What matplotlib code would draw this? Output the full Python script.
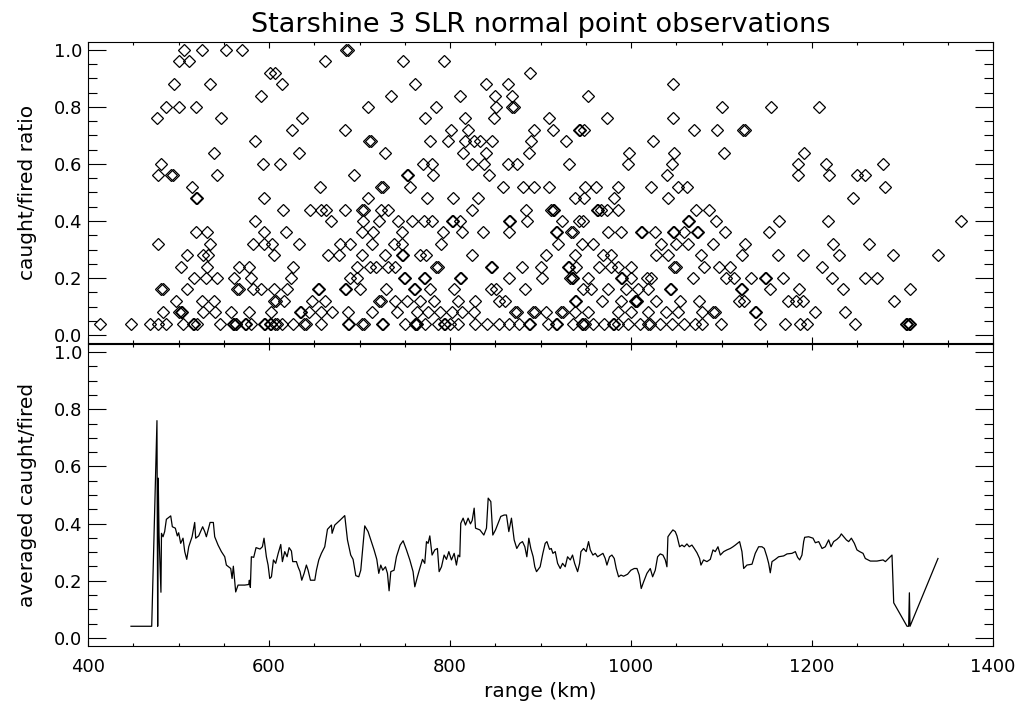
####################
# Starshine 3 SLR normal point observations
# top    : caught/fired ratio of every normal point vs range
# bottom : running average of the caught/fired ratio vs range
####################
import numpy as np
import matplotlib
matplotlib.use('Agg')
import matplotlib.pyplot as plt
from matplotlib.ticker import MultipleLocator

##
# Normal points : range (km) of the points found at each caught/fired level
# (a second value 1-2 km away where the diamond looks thicker = stacked points)
r_100 = [506, 526, 552, 570, 685, 687]
r_096 = [500, 512, 662, 748, 793]
r_092 = [601, 607, 888]
r_088 = [495, 535, 614, 761, 840, 864, 1046]
r_084 = [591, 735, 811, 850, 869, 952]
r_080 = [486, 500, 519, 709, 784, 851, 869, 870.5, 1100, 1155, 1208]
r_076 = [476, 547, 637, 772, 817, 849, 909, 973, 1046]
r_072 = [625, 684, 801, 820, 893, 914, 942, 943.5, 948, 1070, 1095, 1124, 1125.5]
r_068 = [585, 711, 712.5, 778, 798, 817, 826, 833, 846, 889, 928, 1024]
r_064 = [539, 633, 728, 814, 840, 887, 998, 1048, 1103, 1191]
r_060 = [481, 593, 612, 770, 780, 824, 838, 864, 874, 931, 997, 1045, 1184, 1216, 1279]
r_056 = [477, 492, 493.5, 542, 694, 752, 753.5, 781, 843, 1040, 1185, 1219, 1250, 1259]
r_052 = [515, 656, 724, 725.5, 756, 859, 881, 893, 909, 949, 961, 986, 1022, 1052,
         1062, 1281]
r_048 = [519, 520.5, 595, 709, 775, 803, 831, 938, 948, 981, 1041, 1245]
r_044 = [616, 645, 657, 663, 684, 703, 704.5, 724, 732, 824, 884, 912, 913.5, 915,
         962, 963.5, 967, 974, 986, 1072, 1086]
r_040 = [584, 668, 704, 721, 743, 758, 771, 780, 802, 803.5, 811, 865, 866.5, 885,
         924, 942, 947, 1063, 1064.5, 1094, 1163, 1218, 1365]
r_036 = [519, 532, 595, 619, 703, 715, 747, 792, 813, 836, 865, 917, 918.5, 934,
         935.5, 975, 989, 1011, 1012.5, 1026, 1046, 1047.5, 1059, 1073, 1074.5,
         1104, 1152]
r_032 = [477, 535, 582, 595, 603, 633, 679, 689, 714, 738, 747, 790, 919, 946, 958,
         1033, 1050, 1063, 1091, 1126, 1223, 1263]
r_028 = [509, 527, 533, 605, 665, 677, 703, 728, 747, 748.5, 767, 773, 824, 906,
         938, 969, 978, 1028, 1041, 1077, 1123, 1162, 1190, 1230, 1289, 1339]
r_024 = [503, 532, 567, 578, 626, 697, 712, 718, 731, 739, 785, 786.5, 845, 846.5,
         880, 901, 930, 931.5, 939, 965, 978, 986, 1000, 1048, 1049.5, 1081, 1097,
         1109, 1211]
r_020 = [517, 530, 542, 561, 580, 624, 690, 697, 749, 750.5, 771, 772.5, 811, 812.5,
         865, 902, 933, 934.5, 936, 952, 989, 990.5, 1000, 1018, 1022, 1069, 1105,
         1114, 1133, 1148, 1149.5, 1168, 1222, 1259, 1272]
r_016 = [481, 482.5, 509, 565, 566.5, 582, 591, 605, 620, 654, 655.5, 684, 685.5,
         701, 729, 760, 761.5, 778, 804, 845, 851, 883, 947, 956, 975, 995, 1008,
         1019, 1043, 1044.5, 1121, 1122.5, 1154, 1186, 1234, 1308]
r_012 = [497, 526, 539, 606, 607.5, 617, 648, 662, 722, 723.5, 739, 752, 767, 782,
         809, 828, 854, 861, 938, 939.5, 968, 989, 1004, 1005.5, 1007, 1028, 1054,
         1075, 1119, 1125, 1174, 1182, 1190, 1291]
r_008 = [483, 501, 502.5, 504, 527, 540, 558, 578, 602, 634, 635.5, 644, 657, 670,
         687, 714, 741, 763, 776, 789, 802, 813, 826, 872, 873.5, 892, 893.5, 906,
         923, 924.5, 938, 952, 986, 1000, 1019, 1039, 1052, 1079, 1091, 1092.5,
         1137, 1138.5, 1203, 1237]
r_004 = [413, 447, 468, 477, 486, 505, 516, 517.5, 520, 546, 560, 561.5, 563, 564,
         573.5, 575, 580, 594.5, 596, 601, 602.5, 607, 608.5, 614, 626, 639, 640.5,
         657, 687, 688.5, 703, 704.5, 725, 726.5, 750, 761, 762.5, 764, 772, 787,
         793, 794.5, 800, 809, 828, 841, 854, 865, 876, 887, 888.5, 908, 917, 918.5,
         936, 946, 947.5, 949, 958, 970, 980, 981.5, 986, 997, 1010, 1019, 1020.5,
         1032, 1045, 1059, 1071, 1079, 1099, 1142, 1170, 1187, 1195, 1248, 1304,
         1305.5, 1307, 1308]

ratio_levels = [1.00, 0.96, 0.92, 0.88, 0.84, 0.80, 0.76, 0.72, 0.68, 0.64, 0.60,
                0.56, 0.52, 0.48, 0.44, 0.40, 0.36, 0.32, 0.28, 0.24, 0.20, 0.16,
                0.12, 0.08, 0.04]
ranges_by_level = [r_100, r_096, r_092, r_088, r_084, r_080, r_076, r_072, r_068,
                   r_064, r_060, r_056, r_052, r_048, r_044, r_040, r_036, r_032,
                   r_028, r_024, r_020, r_016, r_012, r_008, r_004]

##
# Averaged caught/fired (running mean) : range (km) and value
avg_range = [447.5, 470.4, 476.2, 477.0, 477.6, 478.5, 480.6, 481.2, 482.9, 484.7,
             486.6, 491.4, 493.2, 496.5, 498.7, 500.2, 502.4, 505.0, 506.9, 509.1,
             511.3, 515.0, 517.9, 519.0, 522.3, 526.7, 529.0, 530.8, 534.9, 538.5,
             540.0, 543.7, 547.4, 551.1, 552.9, 557.7, 559.2, 560.6, 563.2, 565.8,
             573.2, 577.6, 578.3, 579.4, 580.5, 583.1, 585.7, 590.1, 592.7, 594.5,
             597.1, 599.0, 600.8, 602.7, 604.9, 607.4, 610.0, 613.0, 614.8, 617.4,
             620.0, 622.2, 624.8, 626.2, 630.3, 632.1, 634.3, 636.2, 638.8, 641.3,
             643.2, 645.8, 650.6, 652.4, 655.0, 657.9, 661.6, 664.6, 669.0, 669.7,
             672.7, 678.2, 683.7, 686.7, 690.3, 692.9, 695.9, 699.2, 701.4, 704.0,
             705.8, 709.5, 712.5, 716.1, 719.1, 721.3, 723.5, 725.7, 728.7, 730.9,
             732.7, 734.6, 738.2, 740.8, 744.9, 748.2, 751.9, 755.6, 759.2, 761.1,
             764.0, 766.6, 769.6, 772.1, 774.0, 775.8, 777.7, 780.2, 783.2, 786.1,
             788.0, 790.6, 793.5, 796.1, 798.7, 801.6, 804.6, 807.1, 809.0, 810.8,
             811.9, 814.5, 817.1, 820.0, 822.6, 824.5, 826.7, 828.2, 833.0, 837.4,
             840.3, 842.2, 845.1, 847.3, 850.3, 856.1, 859.8, 862.4, 865.0, 867.9,
             870.9, 873.8, 877.2, 880.1, 882.7, 884.9, 887.1, 889.3, 891.9, 893.7,
             895.6, 899.6, 902.6, 905.2, 907.1, 910.0, 911.9, 913.7, 916.3, 918.9,
             921.8, 924.4, 927.3, 929.9, 932.9, 935.4, 937.7, 941.0, 943.2, 944.7,
             947.6, 950.5, 953.1, 955.0, 957.9, 960.5, 963.1, 966.0, 969.0, 971.5,
             973.4, 976.3, 978.9, 981.5, 983.7, 986.3, 988.9, 991.8, 996.2, 999.9,
             1003.6, 1006.6, 1009.1, 1011.3, 1013.9, 1017.6, 1021.3, 1023.9, 1026.8,
             1029.4, 1032.3, 1035.3, 1037.9, 1039.7, 1040.8, 1043.4, 1046.3, 1048.9,
             1050.8, 1053.7, 1056.3, 1058.9, 1061.8, 1064.4, 1067.3, 1069.9, 1072.9,
             1075.8, 1077.3, 1080.2, 1083.9, 1087.6, 1090.6, 1093.1, 1096.1, 1098.7,
             1102.4, 1106.0, 1109.7, 1112.7, 1115.3, 1120.0, 1122.6, 1124.5, 1128.1,
             1133.7, 1137.3, 1141.0, 1144.7, 1147.3, 1150.2, 1152.1, 1153.9, 1155.8,
             1159.5, 1163.1, 1168.7, 1172.4, 1177.9, 1181.6, 1184.1, 1186.4, 1188.9,
             1190.8, 1191.9, 1196.3, 1201.1, 1203.7, 1207.4, 1211.1, 1214.7, 1216.6,
             1218.4, 1221.0, 1223.9, 1227.6, 1230.6, 1232.4, 1235.0, 1238.0, 1240.5,
             1243.5, 1246.8, 1249.7, 1252.7, 1256.4, 1258.9, 1264.5, 1271.8, 1278.5,
             1281.1, 1288.4, 1290.3, 1305.0, 1306.8, 1307.6, 1308.3, 1339.2]
avg_ratio = [0.041, 0.041, 0.760, 0.041, 0.559, 0.360, 0.160, 0.366, 0.354, 0.372,
             0.415, 0.427, 0.389, 0.384, 0.357, 0.368, 0.331, 0.349, 0.302, 0.275,
             0.319, 0.354, 0.404, 0.349, 0.357, 0.389, 0.372, 0.354, 0.404, 0.404,
             0.354, 0.325, 0.302, 0.284, 0.255, 0.243, 0.208, 0.251, 0.161, 0.185,
             0.185, 0.187, 0.202, 0.177, 0.284, 0.282, 0.316, 0.311, 0.319, 0.349,
             0.284, 0.255, 0.208, 0.214, 0.273, 0.261, 0.294, 0.327, 0.267, 0.302,
             0.284, 0.316, 0.304, 0.267, 0.267, 0.249, 0.232, 0.202, 0.226, 0.255,
             0.237, 0.202, 0.202, 0.237, 0.273, 0.296, 0.319, 0.380, 0.395, 0.366,
             0.395, 0.411, 0.428, 0.343, 0.290, 0.275, 0.218, 0.214, 0.237, 0.331,
             0.392, 0.372, 0.343, 0.308, 0.275, 0.226, 0.255, 0.237, 0.249, 0.226,
             0.165, 0.232, 0.237, 0.284, 0.325, 0.340, 0.308, 0.273, 0.232, 0.179,
             0.214, 0.243, 0.275, 0.261, 0.337, 0.331, 0.357, 0.290, 0.308, 0.313,
             0.232, 0.249, 0.290, 0.275, 0.302, 0.273, 0.296, 0.255, 0.290, 0.284,
             0.401, 0.419, 0.395, 0.419, 0.399, 0.411, 0.454, 0.384, 0.378, 0.360,
             0.384, 0.489, 0.477, 0.360, 0.378, 0.425, 0.430, 0.430, 0.372, 0.419,
             0.343, 0.313, 0.331, 0.337, 0.319, 0.284, 0.349, 0.313, 0.284, 0.249,
             0.232, 0.249, 0.296, 0.331, 0.337, 0.310, 0.313, 0.296, 0.302, 0.261,
             0.243, 0.261, 0.249, 0.284, 0.273, 0.290, 0.261, 0.232, 0.261, 0.302,
             0.313, 0.302, 0.337, 0.308, 0.290, 0.296, 0.284, 0.290, 0.296, 0.278,
             0.255, 0.284, 0.290, 0.278, 0.243, 0.214, 0.220, 0.216, 0.223, 0.237,
             0.243, 0.243, 0.220, 0.173, 0.196, 0.226, 0.243, 0.214, 0.237,
             0.284, 0.294, 0.290, 0.273, 0.249, 0.354, 0.366, 0.378, 0.372,
             0.357, 0.319, 0.325, 0.319, 0.329, 0.319, 0.325, 0.313, 0.298,
             0.278, 0.255, 0.273, 0.267, 0.275, 0.308, 0.302, 0.319, 0.290,
             0.302, 0.308, 0.313, 0.319, 0.325, 0.337, 0.302, 0.243, 0.255,
             0.258, 0.296, 0.319, 0.319, 0.313, 0.284, 0.261, 0.228, 0.267,
             0.275, 0.284, 0.287, 0.294, 0.296, 0.302, 0.282, 0.273, 0.290,
             0.337, 0.352, 0.354, 0.349, 0.333, 0.337, 0.313, 0.319, 0.331,
             0.343, 0.319, 0.337, 0.345, 0.354, 0.364, 0.354, 0.343, 0.337,
             0.349, 0.331, 0.308, 0.302, 0.296, 0.278, 0.269, 0.269, 0.273,
             0.267, 0.290, 0.123, 0.041, 0.041, 0.158, 0.041, 0.278]

##
# Build the scatter arrays from the per level lists
obs_range = []
obs_ratio = []
for lvl, rr in zip(ratio_levels, ranges_by_level):
    obs_range += rr
    obs_ratio += [lvl] * len(rr)

##
# IDL-like box axes : inward ticks on all four sides
def idl_axes(ax):
    ax.set_xlim(400, 1400)
    ax.set_ylim(-0.028, 1.028)
    ax.xaxis.set_major_locator(MultipleLocator(200))
    ax.xaxis.set_minor_locator(MultipleLocator(50))
    ax.yaxis.set_major_locator(MultipleLocator(0.2))
    ax.yaxis.set_minor_locator(MultipleLocator(0.05))
    ax.tick_params(which='both', direction='in', top=True, right=True, width=0.8,
                   labelsize=13, colors='black')
    ax.tick_params(axis='x', which='major', length=4.3, pad=9)
    ax.tick_params(axis='x', which='minor', length=2.2)
    ax.tick_params(axis='y', which='major', length=13, pad=4)
    ax.tick_params(axis='y', which='minor', length=6.5)
    ax.yaxis.set_major_formatter(plt.FuncFormatter(lambda v, p: '%.1f' % v))
    for s in ax.spines.values():
        s.set_linewidth(0.8)

plt.rcParams['font.family'] = ['DejaVu Sans']

fig = plt.figure(figsize=(10.26, 7.11), dpi=100)
left, right = 88 / 1026., 993 / 1026.
ax_top = fig.add_axes([left, 1 - 343 / 711., right - left, 301 / 711.])
ax_bot = fig.add_axes([left, 1 - 646 / 711., right - left, 302 / 711.])

## top panel - every normal point
ax_top.plot(obs_range, obs_ratio, linestyle='none', marker='D', markersize=6.0,
            markerfacecolor='none', markeredgecolor='black', markeredgewidth=0.9)
idl_axes(ax_top)
ax_top.tick_params(axis='x', labelbottom=False)
ax_top.set_ylabel('caught/fired ratio', fontsize=14.5, labelpad=12)
ax_top.set_title('Starshine 3 SLR normal point observations', fontsize=19.5, pad=7)

## bottom panel - averaged ratio
ax_bot.plot(avg_range, avg_ratio, '-', color='black', linewidth=0.9)
idl_axes(ax_bot)
ax_bot.set_ylabel('averaged caught/fired', fontsize=14.5, labelpad=12)
ax_bot.set_xlabel('range (km)', fontsize=14.5, labelpad=4)

plt.savefig('out.png', dpi=100, facecolor='white')
plt.close()
